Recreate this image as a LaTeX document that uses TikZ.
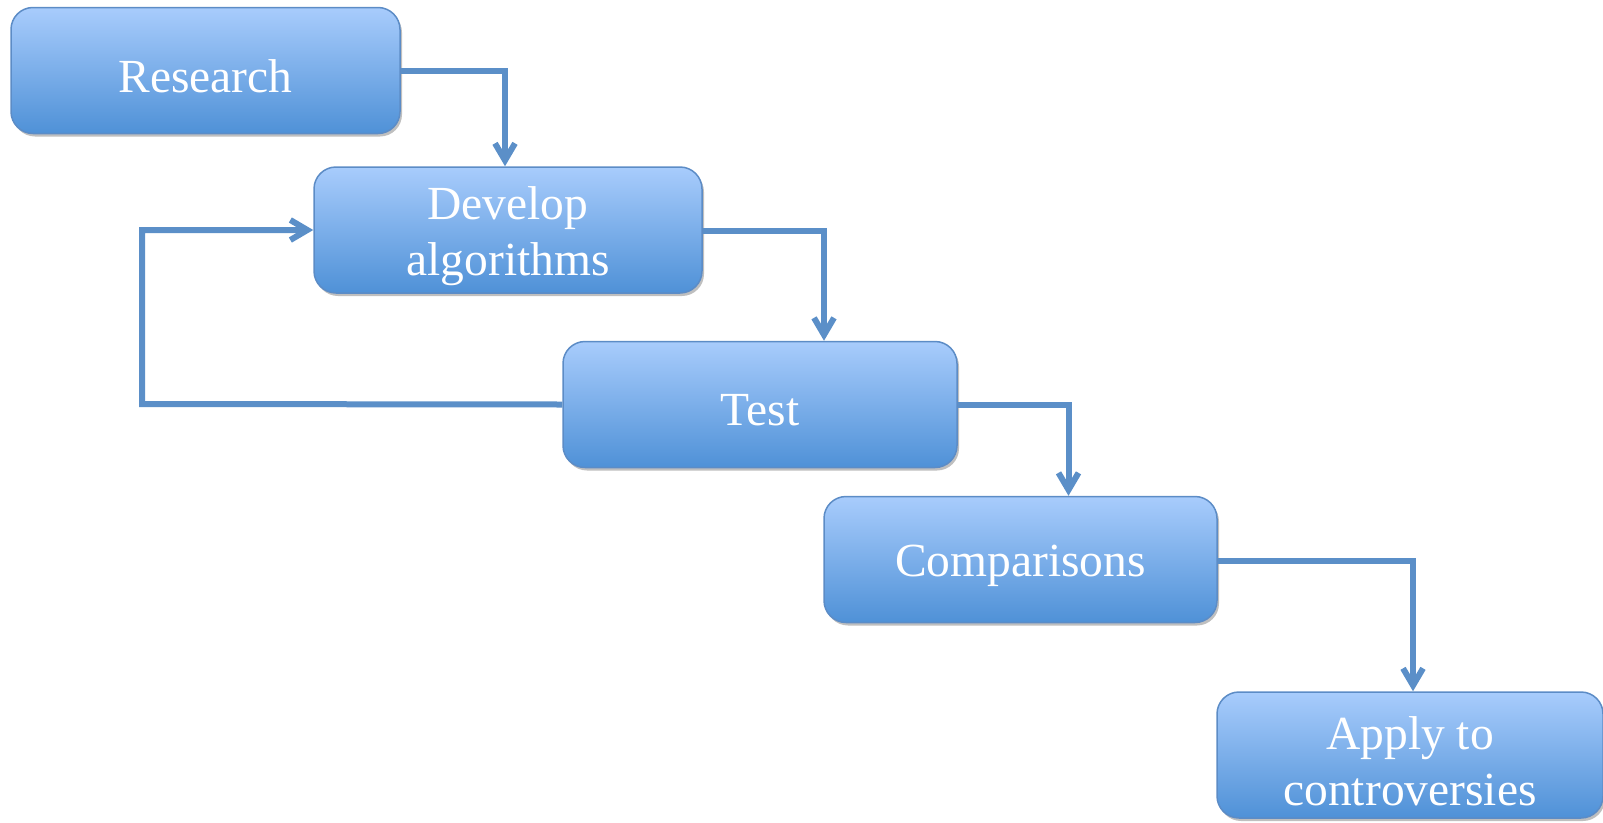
\documentclass[tikz,border=0pt]{standalone}
\usepackage{fontspec}
\setmainfont{Liberation Serif}
\usetikzlibrary{arrows.meta,shadows}
\definecolor{boxtop}{HTML}{A8CCFC}
\definecolor{boxbot}{HTML}{4F91D7}
\definecolor{boxedge}{HTML}{5C8CC6}
\definecolor{wire}{HTML}{5B8FC8}
\tikzset{
  stage/.style={draw=boxedge, line width=1.5pt, rounded corners=22pt,
    top color=boxtop, bottom color=boxbot,
    minimum height=126pt,
    drop shadow={shadow xshift=2pt, shadow yshift=-3pt, opacity=0.25, fill=black}},
  caption/.style={text=white, align=center, yshift=-6pt,
    font=\fontsize{47.5}{56}\selectfont},
  conn/.style={draw=wire, line width=6pt,
    -{Straight Barb[length=17pt,width=20pt,line width=6pt]}}
}
\begin{document}
\begin{tikzpicture}[x=1pt,y=-1pt]
\useasboundingbox (0,0) rectangle (1603,822);
\node[stage, minimum width=389pt, label={[caption]center:Research}] (r) at (205.5,70.5) {};
\node[stage, minimum width=388pt, label={[caption]center:Develop\\algorithms}] (d) at (508,230) {};
\node[stage, minimum width=394pt, label={[caption]center:Test}] (t) at (760,404.5) {};
\node[stage, minimum width=393pt, label={[caption]center:Comparisons}] (c) at (1020.5,559.5) {};
\node[stage, minimum width=386pt, label={[caption]center:Apply to\\controversies}] (a) at (1410,755) {};
\coordinate (loop) at (142,404);
\draw[conn] (r.east) -| ([xshift=-3pt]d.north);
\draw[conn] ([yshift=-1pt]d.east) -| ([xshift=64pt]t.north);
\draw[conn] (t.east) -| ([xshift=48pt]c.north);
\draw[conn] ([yshift=-1pt]c.east) -| ([xshift=3pt]a.north);
\draw[conn] (t.west) -- (loop) |- (d.west);
\end{tikzpicture}
\end{document}
